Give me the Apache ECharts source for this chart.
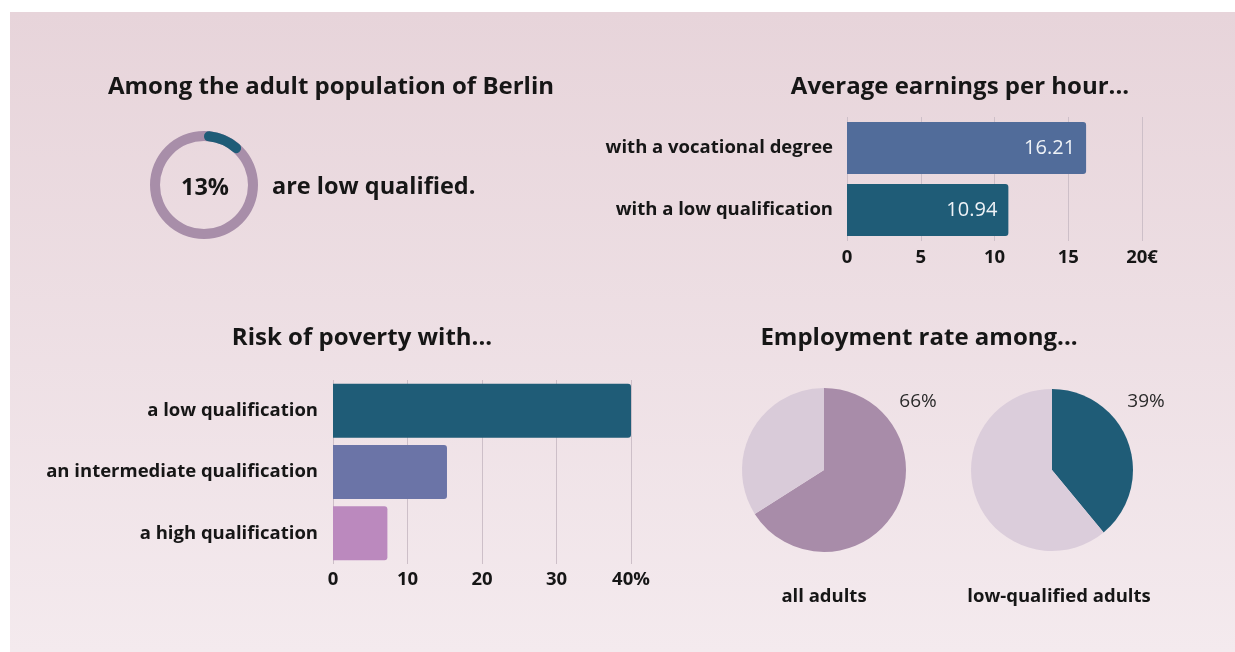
<!DOCTYPE html>
<html>
<head>
<meta charset="utf-8">
<script src="https://cdn.jsdelivr.net/npm/echarts@6/dist/echarts.min.js"></script>
<style>
  html, body { margin: 0; padding: 0; background: #ffffff; }
  #chart { width: 1235px; height: 652px; }
</style>
</head>
<body>
<div id="chart"></div>
<script>
// Share of low-qualified adults in Berlin (%)
const lowQualifiedShare = 13;

// Average hourly earnings (EUR)
const earningsCategories = ['with a vocational degree', 'with a low qualification'];
const earningsValues = [16.21, 10.94];
const earningsTicks = [0, 5, 10, 15, 20];

// Risk of poverty by qualification (%)
const povertyCategories = ['a low qualification', 'an intermediate qualification', 'a high qualification'];
const povertyValues = [40, 15.3, 7.3];
const povertyTicks = [0, 10, 20, 30, 40];

// Employment rate (%)
const employmentGroups = ['all adults', 'low-qualified adults'];
const employmentRates = [66, 39];

const FONT = '"Open Sans", "Noto Sans", sans-serif';
const INK = '#161616';
const TEAL = '#1f5c77';

const chart = echarts.init(document.getElementById('chart'), null, { renderer: 'canvas' });

const titleStyle = { fontFamily: FONT, fontWeight: 'bold', fontSize: 24, color: INK };
const catLabel = { fontFamily: FONT, fontWeight: 'bold', fontSize: 18.5, color: INK };
const tickLabel = { fontFamily: FONT, fontWeight: 'bold', fontSize: 18.5, color: INK };

function lastTickSuffix(ticks, suffix) {
  return v => (v === ticks[ticks.length - 1] ? v + suffix : String(v));
}

// text blocks without the default title padding
function text(str, x, y, style, align) {
  return { text: str, left: x, top: y, padding: 0, textAlign: align || 'left', textStyle: style };
}

const option = {
  backgroundColor: '#ffffff',
  animation: false,
  graphic: [{
    type: 'rect',
    z: -10,
    shape: { x: 10, y: 12, width: 1225, height: 640 },
    style: {
      fill: new echarts.graphic.LinearGradient(0, 0, 0, 1, [
        { offset: 0, color: '#e7d4da' },
        { offset: 1, color: '#f4eaee' }
      ])
    }
  }],
  title: [
    text('Among the adult population of Berlin', 331, 75, titleStyle, 'center'),
    text('Average earnings per hour...', 960, 75, titleStyle, 'center'),
    text('Risk of poverty with...', 362, 326, titleStyle, 'center'),
    text('Employment rate among...', 919, 326, titleStyle, 'center'),
    text(lowQualifiedShare + '%', 205, 176, { fontFamily: FONT, fontWeight: 'bold', fontSize: 23.5, color: INK }, 'center'),
    text('are low qualified.', 272, 175, { fontFamily: FONT, fontWeight: 'bold', fontSize: 23.5, color: INK }),
    text(employmentRates[0] + '%', 918, 392, { fontFamily: FONT, fontWeight: 'normal', fontSize: 19, color: '#2a2a2a' }, 'center'),
    text(employmentRates[1] + '%', 1146, 392, { fontFamily: FONT, fontWeight: 'normal', fontSize: 19, color: '#2a2a2a' }, 'center'),
    text(employmentGroups[0], 824, 587, catLabel, 'center'),
    text(employmentGroups[1], 1059, 587, catLabel, 'center')
  ],
  grid: [
    { left: 847, top: 117, width: 295, height: 124 },
    { left: 333, top: 380, width: 298, height: 184 }
  ],
  xAxis: [
    {
      gridIndex: 0, type: 'value', min: earningsTicks[0], max: earningsTicks[earningsTicks.length - 1],
      interval: earningsTicks[1] - earningsTicks[0],
      axisLine: { show: false }, axisTick: { show: false },
      splitLine: { show: true, lineStyle: { color: '#cdbfc8', width: 1 } },
      axisLabel: { ...tickLabel, margin: 7, formatter: lastTickSuffix(earningsTicks, '€') }
    },
    {
      gridIndex: 1, type: 'value', min: povertyTicks[0], max: povertyTicks[povertyTicks.length - 1],
      interval: povertyTicks[1] - povertyTicks[0],
      axisLine: { show: false }, axisTick: { show: false },
      splitLine: { show: true, lineStyle: { color: '#cdbfc8', width: 1 } },
      axisLabel: { ...tickLabel, margin: 6, formatter: lastTickSuffix(povertyTicks, '%') }
    }
  ],
  yAxis: [
    {
      gridIndex: 0, type: 'category', inverse: true, data: earningsCategories,
      axisLine: { show: false }, axisTick: { show: false },
      axisLabel: { ...catLabel, margin: 14 }
    },
    {
      gridIndex: 1, type: 'category', inverse: true, data: povertyCategories,
      axisLine: { show: false }, axisTick: { show: false },
      axisLabel: { ...catLabel, margin: 15 }
    }
  ],
  series: [
    // ring track
    {
      type: 'pie', radius: [44, 54], center: [204, 185], silent: true,
      label: { show: false }, labelLine: { show: false },
      data: [{ value: 100, itemStyle: { color: '#a88ea9' } }]
    },
    // highlighted share on the ring
    {
      type: 'pie', radius: [44, 54], center: [204, 185], startAngle: 90, clockwise: true, silent: true,
      label: { show: false }, labelLine: { show: false },
      data: [
        { value: lowQualifiedShare, itemStyle: { color: TEAL, borderRadius: 5 } },
        { value: 100 - lowQualifiedShare, itemStyle: { color: 'transparent' } }
      ]
    },
    {
      type: 'bar', xAxisIndex: 0, yAxisIndex: 0, barWidth: 52,
      data: earningsValues.map((v, i) => ({
        value: v,
        itemStyle: { color: ['#516c9a', TEAL][i], borderRadius: [0, 3, 3, 0] }
      })),
      label: {
        show: true, position: 'insideRight', distance: 11,
        fontFamily: FONT, fontSize: 20, color: '#eef2f7',
        formatter: p => p.value.toFixed(2)
      }
    },
    {
      type: 'bar', xAxisIndex: 1, yAxisIndex: 1, barWidth: 54,
      data: povertyValues.map((v, i) => ({
        value: v,
        itemStyle: { color: [TEAL, '#6b74a7', '#bb89be'][i], borderRadius: [0, 3, 3, 0] }
      }))
    },
    {
      type: 'pie', radius: 82, center: [824, 470], startAngle: 90, clockwise: true, silent: true,
      label: { show: false }, labelLine: { show: false },
      data: [
        { value: employmentRates[0], itemStyle: { color: '#a88ca9' } },
        { value: 100 - employmentRates[0], itemStyle: { color: '#d9cbd9' } }
      ]
    },
    {
      type: 'pie', radius: 81, center: [1052, 470], startAngle: 90, clockwise: true, silent: true,
      label: { show: false }, labelLine: { show: false },
      data: [
        { value: employmentRates[1], itemStyle: { color: TEAL } },
        { value: 100 - employmentRates[1], itemStyle: { color: '#dbcddb' } }
      ]
    }
  ]
};

chart.setOption(option);
</script>
</body>
</html>
